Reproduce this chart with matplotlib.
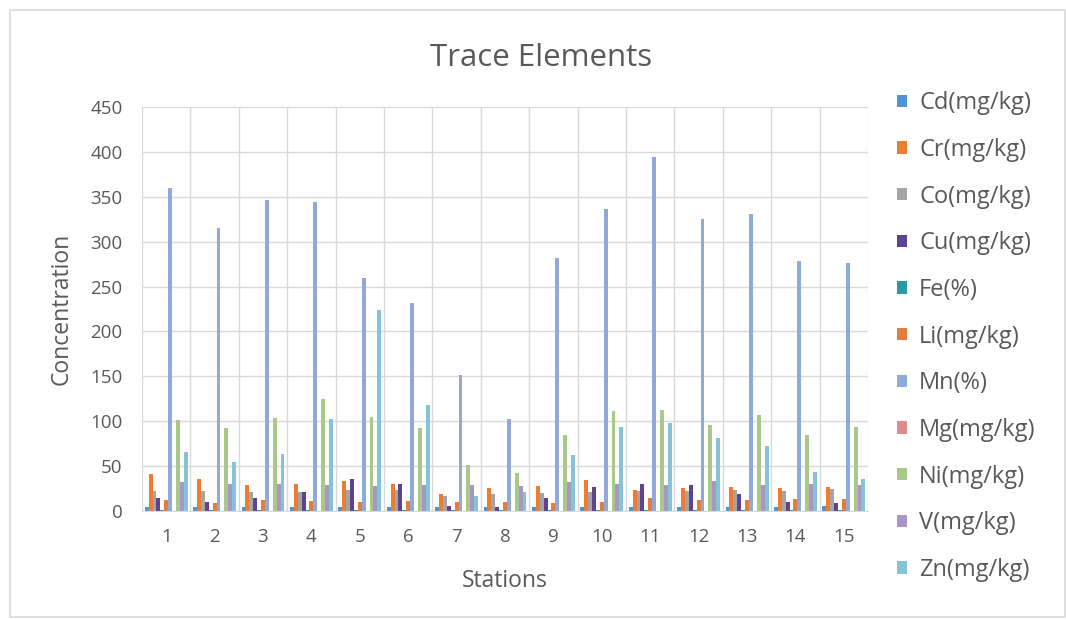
import numpy as np
import matplotlib
matplotlib.use("Agg")
import matplotlib.pyplot as plt
from matplotlib.patches import Rectangle

# Data
stations = [str(i) for i in range(1, 16)]
elements = ["Cd(mg/kg)", "Cr(mg/kg)", "Co(mg/kg)", "Cu(mg/kg)", "Fe(%)", "Li(mg/kg)",
            "Mn(%)", "Mg(mg/kg)", "Ni(mg/kg)", "V(mg/kg)", "Zn(mg/kg)"]

cd = [5, 5, 5, 5, 5, 5, 4, 4, 4, 5, 5, 4, 5, 4, 6]
cr = [41, 36, 29, 30, 33, 30, 19, 26, 28, 35, 23, 26, 27, 26, 27]
co = [22, 22, 21, 21, 23, 23, 17, 19, 20, 21, 22, 22, 23, 22, 25]
cu = [15, 10, 15, 21, 36, 30, 6, 5, 14, 27, 30, 29, 19, 10, 9]
fe = [1, 1, 1, 1, 1, 1, 1, 1, 1, 1, 1, 1, 1, 1, 1]
li = [12, 9, 12, 11, 10, 11, 10, 10, 9, 10, 14, 12, 12, 13, 13]
mn = [360, 315, 346, 344, 260, 232, 151, 102, 282, 336, 394, 325, 331, 278, 276]
mg = [0.5, 0.5, 0.5, 0.5, 0.5, 0.5, 0.5, 0.5, 0.5, 0.5, 0.5, 0.5, 0.5, 0.5, 0.5]
ni = [101, 92, 104, 125, 105, 92, 51, 42, 85, 111, 113, 96, 107, 85, 94]
v = [32, 30, 30, 29, 28, 29, 29, 28, 32, 30, 29, 33, 29, 30, 29]
zn = [66, 55, 64, 102, 224, 118, 17, 21, 62, 94, 98, 81, 72, 43, 36]

series = [cd, cr, co, cu, fe, li, mn, mg, ni, v, zn]
colors = ["#4E94D4", "#ED7D31", "#A5A5A5", "#5E4293", "#2B99A8", "#E37D3A",
          "#8FA9D9", "#DE8A8F", "#A8C98A", "#A897C6", "#84C4D6"]

text_color = "#595959"
plt.rcParams["font.family"] = ["Open Sans", "DejaVu Sans"]

fig = plt.figure(figsize=(10.66, 6.2), dpi=100)
ax = fig.add_axes([0.1332, 0.1758, 0.6811, 0.6516])

# chart border
fig.patches.append(Rectangle((0.009, 0.005), 0.99, 0.979, transform=fig.transFigure,
                             fill=False, edgecolor="#D9D9D9", linewidth=1.2))

x = np.arange(len(stations))
n = len(series)
width = 1 / (n + 1.4)
for i, (vals, col, name) in enumerate(zip(series, colors, elements)):
    ax.bar(x + (i - (n - 1) / 2) * width, vals, width=width, color=col, label=name)

ax.set_xlim(-0.5, len(stations) - 0.5)
ax.set_ylim(0, 450)
ax.set_yticks(np.arange(0, 451, 50))
ax.set_xticks(x)
ax.set_xticklabels(stations)
ax.set_xticks(np.arange(-0.5, len(stations), 1), minor=True)
ax.grid(axis="y", color="#D9D9D9", linewidth=1)
ax.grid(axis="x", which="minor", color="#D9D9D9", linewidth=1)
ax.set_axisbelow(True)
for s in ["top", "right", "left"]:
    ax.spines[s].set_visible(False)
ax.spines["bottom"].set_color("#D9D9D9")
ax.tick_params(axis="both", which="both", length=0, labelsize=13.5, colors=text_color, pad=12)
ax.tick_params(axis="y", pad=14)

ax.set_ylabel("Concentration", fontsize=16.5, color=text_color, labelpad=12)
ax.set_xlabel("Stations", fontsize=16.5, color=text_color, labelpad=17)
fig.text(0.508, 0.907, "Trace Elements", fontsize=22.5, color=text_color, ha="center", va="center")

fig.legend(loc="upper left", bbox_to_anchor=(0.833, 0.868), frameon=False,
           fontsize=17, labelcolor=text_color, handlelength=0.42, handleheight=0.42,
           handletextpad=0.5, labelspacing=0.96, borderaxespad=0)

fig.savefig("out.png", dpi=100)
